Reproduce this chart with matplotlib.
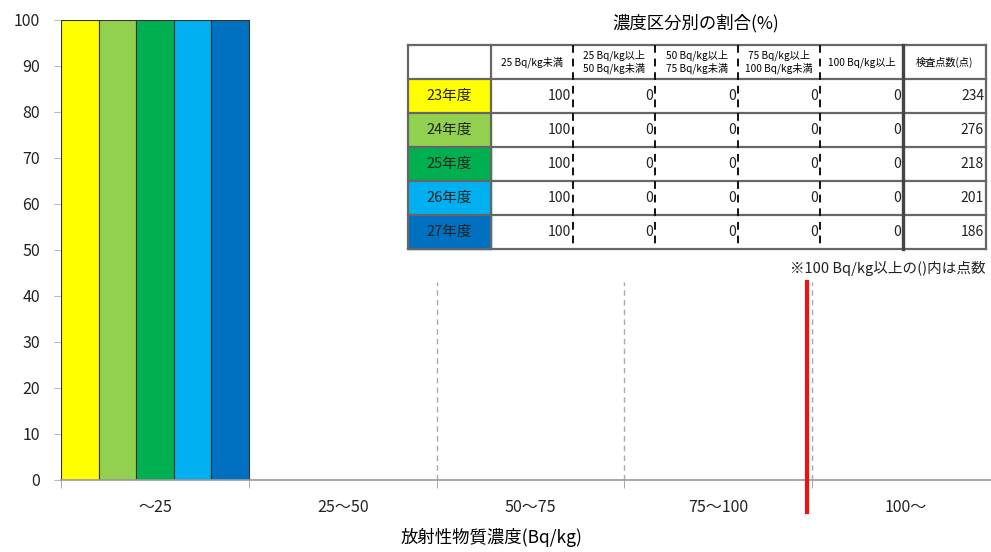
import numpy as np
import matplotlib.pyplot as plt

plt.rcParams['font.family'] = ['Noto Sans CJK JP', 'DejaVu Sans']

## data
categories = ['～25', '25～50', '50～75', '75～100', '100～']
years = ['23年度', '24年度', '25年度', '26年度', '27年度']
colors = ['#FFFF00', '#92D050', '#00B050', '#00B0F0', '#0070C0']
shares = [
    [100, 0, 0, 0, 0],
    [100, 0, 0, 0, 0],
    [100, 0, 0, 0, 0],
    [100, 0, 0, 0, 0],
    [100, 0, 0, 0, 0],
]
counts = [234, 276, 218, 201, 186]
headers = ['25 Bq/kg未満', '25 Bq/kg以上\n50 Bq/kg未満', '50 Bq/kg以上\n75 Bq/kg未満',
           '75 Bq/kg以上\n100 Bq/kg未満', '100 Bq/kg以上', '検査点数(点)']
limit_pos = 3.47  # red line, just left of the 100 boundary

fig = plt.figure(figsize=(9.91, 5.52), dpi=100)
ax = fig.add_axes([61/991, 72/552, 939/991, 460/552])

n = len(years)
w = 1.0 / n
x = np.arange(len(categories))
for i in range(n):
    vals = np.array(shares[i], dtype=float)
    m = vals > 0
    ax.bar(x[m] - 0.5 + (i + 0.5) * w, vals[m], width=w, color=colors[i],
           edgecolor='#333333', linewidth=0.8, zorder=3)

ax.set_xlim(-0.5, len(categories) - 0.5)
ax.set_ylim(0, 100)
ax.set_yticks(np.arange(0, 101, 10))
ax.set_xticks(x)
ax.set_xticklabels(categories)
ax.set_xticks(np.arange(-0.5, len(categories), 1.0), minor=True)
ax.tick_params(axis='x', which='major', length=0, pad=14, labelsize=11.5, colors='#222222')
ax.tick_params(axis='x', which='minor', length=6, color='#999999', direction='out')
ax.tick_params(axis='y', length=5, color='#bbbbbb', labelsize=11.5, labelcolor='#222222', pad=10)
for s in ['top', 'right', 'left']:
    ax.spines[s].set_visible(False)
ax.spines['bottom'].set_color('#999999')
ax.spines['bottom'].set_linewidth(1.2)
ax.spines['bottom'].set_zorder(4)
ax.set_xlabel('放射性物質濃度(Bq/kg)', fontsize=12.5, labelpad=8, x=0.458)

for b in [1.5, 2.5, 3.5]:
    ax.plot([b, b], [0, 43], color='#aaaaaa', lw=1, ls=(0, (4, 3)), zorder=2)
ax.plot([limit_pos, limit_pos], [-7, 43], color='#ee1111', lw=3, zorder=5, clip_on=False)

## table drawn on an overlay axes in pixel units
tab = fig.add_axes([0, 0, 1, 1])
tab.set_xlim(0, 991)
tab.set_ylim(552, 0)
tab.axis('off')

col_x = [408, 491, 573, 655, 738, 820, 903, 986]
row_y = [45, 79, 113, 147, 181, 215, 249]
edge = '#666666'

tab.text((col_x[0] + col_x[-1]) / 2 - 1, 23, '濃度区分別の割合(%)', ha='center', va='center', fontsize=12.5)

for r in range(n):
    tab.add_patch(plt.Rectangle((col_x[0], row_y[r + 1]), col_x[1] - col_x[0],
                                row_y[r + 2] - row_y[r + 1], color=colors[r], zorder=1))
    tab.text((col_x[0] + col_x[1]) / 2, (row_y[r + 1] + row_y[r + 2]) / 2, years[r],
             ha='center', va='center', fontsize=10.5, color='#222222')
    vals = shares[r] + [counts[r]]
    for c, v in enumerate(vals):
        tab.text(col_x[c + 2] - 2, (row_y[r + 1] + row_y[r + 2]) / 2, str(v),
                 ha='right', va='center', fontsize=10, color='#222222')

for c, h in enumerate(headers):
    tab.text((col_x[c + 1] + col_x[c + 2]) / 2, (row_y[0] + row_y[1]) / 2, h,
             ha='center', va='center', fontsize=7.3, linespacing=1.15)

# horizontal lines
for y in row_y:
    tab.plot([col_x[0], col_x[-1]], [y, y], color=edge, lw=1.6, zorder=3)
# outer + solid verticals
for xx in [col_x[0], col_x[1], col_x[-1]]:
    tab.plot([xx, xx], [row_y[0], row_y[-1]], color=edge, lw=1.6, zorder=3)
tab.plot([col_x[6], col_x[6]], [row_y[0], row_y[-1]], color='#444444', lw=2.4, zorder=3)
# dashed verticals
for xx in col_x[2:6]:
    tab.plot([xx, xx], [row_y[0], row_y[-1]], color='#111111', lw=1.4, ls=(0, (4, 3)), zorder=3)

tab.text(col_x[-1], 268, '※100 Bq/kg以上の()内は点数', ha='right', va='center', fontsize=10.5, color='#222222')

fig.savefig('out.png', dpi=100)
